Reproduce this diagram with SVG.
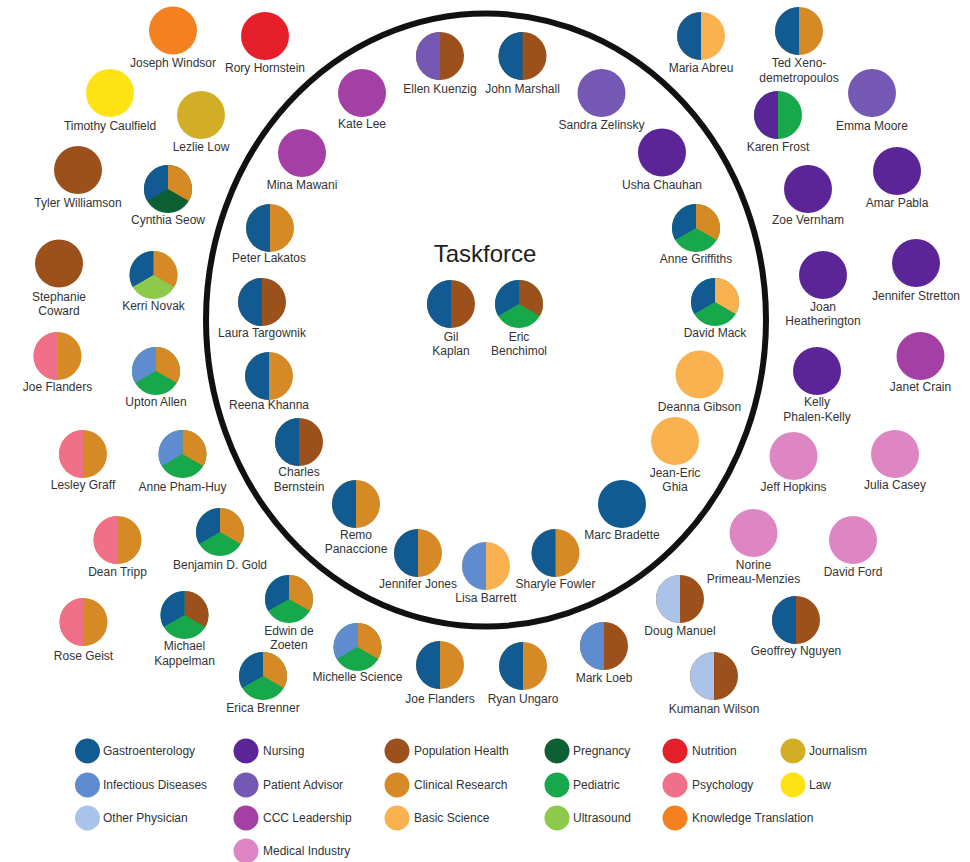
<svg xmlns="http://www.w3.org/2000/svg" xmlns:xlink="http://www.w3.org/1999/xlink" width="970" height="862" viewBox="0 0 970 862">
<style>
.t{font-family:"Liberation Sans",Arial,Helvetica,sans-serif;font-size:12px;fill:#333;text-anchor:middle}
.lt{font-family:"Liberation Sans",Arial,Helvetica,sans-serif;font-size:12px;fill:#333}
.title{font-family:"Liberation Sans",Arial,Helvetica,sans-serif;font-size:24px;fill:#1e1e1e;text-anchor:middle}
.ga{fill:#125b92}.id{fill:#5f8ccf}.op{fill:#a9c4e8}
.nr{fill:#5b2597}.pa{fill:#7558b4}.cc{fill:#a43fa6}.mi{fill:#de86c4}
.ph{fill:#9c501c}.cr{fill:#d58a26}.bs{fill:#f9b24f}
.pg{fill:#0d5f34}.pd{fill:#17a84b}.us{fill:#8dca4b}
.nu{fill:#e5202a}.ps{fill:#ef7088}.ko{fill:#f48120}
.jo{fill:#d2ae27}.lw{fill:#fde313}
</style>
<defs>
<circle id="F" r="24"/>
<path id="L" d="M0,-24A24,24 0 0 0 0,24Z"/>
<path id="S1" d="M0,0L0,-24A24,24 0 0 1 20.78,12Z"/>
<path id="S3" d="M0,0L-20.78,12A24,24 0 0 1 0,-24Z"/>
<circle id="LG" r="12.5"/>
</defs>
<rect width="970" height="862" fill="#fff"/>
<g id="boundary">
<ellipse cx="486" cy="320" rx="280" ry="306.5" fill="none" stroke="#111" stroke-width="6"/>
</g>
<text class="title" x="485" y="262">Taskforce</text>
<g id="nodes">
<g id="n-joseph-windsor" transform="translate(173,30.5)"><use href="#F" class="ko"/><text class="t" y="36">Joseph Windsor</text></g>
<g id="n-rory-hornstein" transform="translate(265,36)"><use href="#F" class="nu"/><text class="t" y="36">Rory Hornstein</text></g>
<g id="n-timothy-caulfield" transform="translate(110,93)"><use href="#F" class="lw"/><text class="t" y="37">Timothy Caulfield</text></g>
<g id="n-lezlie-low" transform="translate(201,115)"><use href="#F" class="jo"/><text class="t" y="36">Lezlie Low</text></g>
<g id="n-tyler-williamson" transform="translate(78,170)"><use href="#F" class="ph"/><text class="t" y="37">Tyler Williamson</text></g>
<g id="n-cynthia-seow" transform="translate(168,189)"><use href="#F" class="pg"/><use href="#S1" class="cr"/><use href="#S3" class="ga"/><text class="t" y="35">Cynthia Seow</text></g>
<g id="n-mina-mawani" transform="translate(302,153)"><use href="#F" class="cc"/><text class="t" y="36">Mina Mawani</text></g>
<g id="n-kate-lee" transform="translate(362,93)"><use href="#F" class="cc"/><text class="t" y="35">Kate Lee</text></g>
<g id="n-ellen-kuenzig" transform="translate(440,56)"><use href="#F" class="ph"/><use href="#L" class="pa"/><text class="t" y="37">Ellen Kuenzig</text></g>
<g id="n-john-marshall" transform="translate(522.5,56)"><use href="#F" class="ph"/><use href="#L" class="ga"/><text class="t" y="37">John Marshall</text></g>
<g id="n-sandra-zelinsky" transform="translate(601.5,93)"><use href="#F" class="pa"/><text class="t" y="36">Sandra Zelinsky</text></g>
<g id="n-usha-chauhan" transform="translate(662,152.5)"><use href="#F" class="nr"/><text class="t" y="36">Usha Chauhan</text></g>
<g id="n-maria-abreu" transform="translate(701,36)"><use href="#F" class="bs"/><use href="#L" class="ga"/><text class="t" y="36">Maria Abreu</text></g>
<g id="n-ted-xeno-demetropoulos" transform="translate(799,31)"><use href="#F" class="cr"/><use href="#L" class="ga"/><text class="t" y="36">Ted Xeno-</text><text class="t" y="51">demetropoulos</text></g>
<g id="n-karen-frost" transform="translate(778,115)"><use href="#F" class="pd"/><use href="#L" class="nr"/><text class="t" y="36">Karen Frost</text></g>
<g id="n-emma-moore" transform="translate(872,93)"><use href="#F" class="pa"/><text class="t" y="37">Emma Moore</text></g>
<g id="n-amar-pabla" transform="translate(897,171)"><use href="#F" class="nr"/><text class="t" y="36">Amar Pabla</text></g>
<g id="n-zoe-vernham" transform="translate(808,189)"><use href="#F" class="nr"/><text class="t" y="35">Zoe Vernham</text></g>
<g id="n-stephanie-coward" transform="translate(59,263.5)"><use href="#F" class="ph"/><text class="t" y="37">Stephanie</text><text class="t" y="51">Coward</text></g>
<g id="n-kerri-novak" transform="translate(153.5,275)"><use href="#F" class="us"/><use href="#S1" class="cr"/><use href="#S3" class="ga"/><text class="t" y="35">Kerri Novak</text></g>
<g id="n-peter-lakatos" transform="translate(270,228)"><use href="#F" class="cr"/><use href="#L" class="ga"/><text class="t" x="-1" y="34">Peter Lakatos</text></g>
<g id="n-laura-targownik" transform="translate(262,302)"><use href="#F" class="ph"/><use href="#L" class="ga"/><text class="t" y="35">Laura Targownik</text></g>
<g id="n-joe-flanders-1" transform="translate(57.5,356)"><use href="#F" class="cr"/><use href="#L" class="ps"/><text class="t" y="35">Joe Flanders</text></g>
<g id="n-upton-allen" transform="translate(156,371)"><use href="#F" class="pd"/><use href="#S1" class="cr"/><use href="#S3" class="id"/><text class="t" y="35">Upton Allen</text></g>
<g id="n-reena-khanna" transform="translate(269,376)"><use href="#F" class="cr"/><use href="#L" class="ga"/><text class="t" y="33">Reena Khanna</text></g>
<g id="n-charles-bernstein" transform="translate(299,442)"><use href="#F" class="ph"/><use href="#L" class="ga"/><text class="t" y="34">Charles</text><text class="t" y="49">Bernstein</text></g>
<g id="n-lesley-graff" transform="translate(83,454)"><use href="#F" class="cr"/><use href="#L" class="ps"/><text class="t" y="35">Lesley Graff</text></g>
<g id="n-anne-pham-huy" transform="translate(182.5,454)"><use href="#F" class="pd"/><use href="#S1" class="cr"/><use href="#S3" class="id"/><text class="t" y="37">Anne Pham-Huy</text></g>
<g id="n-gil-kaplan" transform="translate(451,304)"><use href="#F" class="ph"/><use href="#L" class="ga"/><text class="t" y="37">Gil</text><text class="t" y="51">Kaplan</text></g>
<g id="n-eric-benchimol" transform="translate(519,304)"><use href="#F" class="pd"/><use href="#S1" class="ph"/><use href="#S3" class="ga"/><text class="t" y="37">Eric</text><text class="t" y="51">Benchimol</text></g>
<g id="n-anne-griffiths" transform="translate(696,228)"><use href="#F" class="pd"/><use href="#S1" class="cr"/><use href="#S3" class="ga"/><text class="t" y="35">Anne Griffiths</text></g>
<g id="n-david-mack" transform="translate(715,302)"><use href="#F" class="pd"/><use href="#S1" class="bs"/><use href="#S3" class="ga"/><text class="t" y="35">David Mack</text></g>
<g id="n-deanna-gibson" transform="translate(699.5,374.5)"><use href="#F" class="bs"/><text class="t" y="36">Deanna Gibson</text></g>
<g id="n-jean-eric-ghia" transform="translate(675,441)"><use href="#F" class="bs"/><text class="t" y="36">Jean-Eric</text><text class="t" y="50">Ghia</text></g>
<g id="n-joan-heatherington" transform="translate(823,275)"><use href="#F" class="nr"/><text class="t" y="36">Joan</text><text class="t" y="50">Heatherington</text></g>
<g id="n-jennifer-stretton" transform="translate(916,263)"><use href="#F" class="nr"/><text class="t" y="37">Jennifer Stretton</text></g>
<g id="n-kelly-phalen-kelly" transform="translate(817,371)"><use href="#F" class="nr"/><text class="t" y="35">Kelly</text><text class="t" y="50">Phalen-Kelly</text></g>
<g id="n-janet-crain" transform="translate(920.5,356)"><use href="#F" class="cc"/><text class="t" y="35">Janet Crain</text></g>
<g id="n-jeff-hopkins" transform="translate(793.5,456)"><use href="#F" class="mi"/><text class="t" y="35">Jeff Hopkins</text></g>
<g id="n-julia-casey" transform="translate(895,454)"><use href="#F" class="mi"/><text class="t" y="35">Julia Casey</text></g>
<g id="n-dean-tripp" transform="translate(117.5,540)"><use href="#F" class="cr"/><use href="#L" class="ps"/><text class="t" y="36">Dean Tripp</text></g>
<g id="n-benjamin-d-gold" transform="translate(220,532)"><use href="#F" class="pd"/><use href="#S1" class="cr"/><use href="#S3" class="ga"/><text class="t" y="37">Benjamin D. Gold</text></g>
<g id="n-rose-geist" transform="translate(83.5,622)"><use href="#F" class="cr"/><use href="#L" class="ps"/><text class="t" y="38">Rose Geist</text></g>
<g id="n-michael-kappelman" transform="translate(184.5,615)"><use href="#F" class="pd"/><use href="#S1" class="ph"/><use href="#S3" class="ga"/><text class="t" y="35">Michael</text><text class="t" y="50">Kappelman</text></g>
<g id="n-edwin-de-zoeten" transform="translate(289,599)"><use href="#F" class="pd"/><use href="#S1" class="cr"/><use href="#S3" class="ga"/><text class="t" y="36">Edwin de</text><text class="t" y="50">Zoeten</text></g>
<g id="n-erica-brenner" transform="translate(263,676)"><use href="#F" class="pd"/><use href="#S1" class="cr"/><use href="#S3" class="ga"/><text class="t" y="36">Erica Brenner</text></g>
<g id="n-michelle-science" transform="translate(357.5,647)"><use href="#F" class="pd"/><use href="#S1" class="cr"/><use href="#S3" class="id"/><text class="t" y="34">Michelle Science</text></g>
<g id="n-remo-panaccione" transform="translate(356,504)"><use href="#F" class="cr"/><use href="#L" class="ga"/><text class="t" y="35">Remo</text><text class="t" y="49">Panaccione</text></g>
<g id="n-jennifer-jones" transform="translate(418,553)"><use href="#F" class="cr"/><use href="#L" class="ga"/><text class="t" y="35">Jennifer Jones</text></g>
<g id="n-lisa-barrett" transform="translate(486,566)"><use href="#F" class="bs"/><use href="#L" class="id"/><text class="t" y="36">Lisa Barrett</text></g>
<g id="n-sharyle-fowler" transform="translate(555.5,553)"><use href="#F" class="cr"/><use href="#L" class="ga"/><text class="t" y="35">Sharyle Fowler</text></g>
<g id="n-marc-bradette" transform="translate(622,504)"><use href="#F" class="ga"/><text class="t" y="35">Marc Bradette</text></g>
<g id="n-joe-flanders-2" transform="translate(440,665)"><use href="#F" class="cr"/><use href="#L" class="ga"/><text class="t" y="38">Joe Flanders</text></g>
<g id="n-ryan-ungaro" transform="translate(523,666)"><use href="#F" class="cr"/><use href="#L" class="ga"/><text class="t" y="37">Ryan Ungaro</text></g>
<g id="n-mark-loeb" transform="translate(604,646)"><use href="#F" class="ph"/><use href="#L" class="id"/><text class="t" y="36">Mark Loeb</text></g>
<g id="n-norine-primeau-menzies" transform="translate(753.5,533)"><use href="#F" class="mi"/><text class="t" y="36">Norine</text><text class="t" y="50">Primeau-Menzies</text></g>
<g id="n-david-ford" transform="translate(853,540)"><use href="#F" class="mi"/><text class="t" y="36">David Ford</text></g>
<g id="n-doug-manuel" transform="translate(680,599)"><use href="#F" class="ph"/><use href="#L" class="op"/><text class="t" y="36">Doug Manuel</text></g>
<g id="n-geoffrey-nguyen" transform="translate(796,620)"><use href="#F" class="ph"/><use href="#L" class="ga"/><text class="t" y="35">Geoffrey Nguyen</text></g>
<g id="n-kumanan-wilson" transform="translate(714,676)"><use href="#F" class="ph"/><use href="#L" class="op"/><text class="t" y="37">Kumanan Wilson</text></g>
</g>
<g id="legend">
<use href="#LG" class="ga" x="87.5" y="751"/><text class="lt" x="103" y="755">Gastroenterology</text>
<use href="#LG" class="id" x="87.5" y="785"/><text class="lt" x="103" y="789">Infectious Diseases</text>
<use href="#LG" class="op" x="87.5" y="818"/><text class="lt" x="103" y="822">Other Physician</text>
<use href="#LG" class="nr" x="246" y="751"/><text class="lt" x="263" y="755">Nursing</text>
<use href="#LG" class="pa" x="246" y="785"/><text class="lt" x="263" y="789">Patient Advisor</text>
<use href="#LG" class="cc" x="246" y="818"/><text class="lt" x="263" y="822">CCC Leadership</text>
<use href="#LG" class="mi" x="246" y="851"/><text class="lt" x="263" y="855">Medical Industry</text>
<use href="#LG" class="ph" x="397" y="751"/><text class="lt" x="414" y="755">Population Health</text>
<use href="#LG" class="cr" x="397" y="785"/><text class="lt" x="414" y="789">Clinical Research</text>
<use href="#LG" class="bs" x="397" y="818"/><text class="lt" x="414" y="822">Basic Science</text>
<use href="#LG" class="pg" x="557" y="751"/><text class="lt" x="573" y="755">Pregnancy</text>
<use href="#LG" class="pd" x="557" y="785"/><text class="lt" x="573" y="789">Pediatric</text>
<use href="#LG" class="us" x="557" y="818"/><text class="lt" x="573" y="822">Ultrasound</text>
<use href="#LG" class="nu" x="675" y="751"/><text class="lt" x="692" y="755">Nutrition</text>
<use href="#LG" class="ps" x="675" y="785"/><text class="lt" x="692" y="789">Psychology</text>
<use href="#LG" class="ko" x="675" y="818"/><text class="lt" x="692" y="822">Knowledge Translation</text>
<use href="#LG" class="jo" x="793" y="751"/><text class="lt" x="809" y="755">Journalism</text>
<use href="#LG" class="lw" x="793" y="785"/><text class="lt" x="809" y="789">Law</text>
</g>
</svg>
